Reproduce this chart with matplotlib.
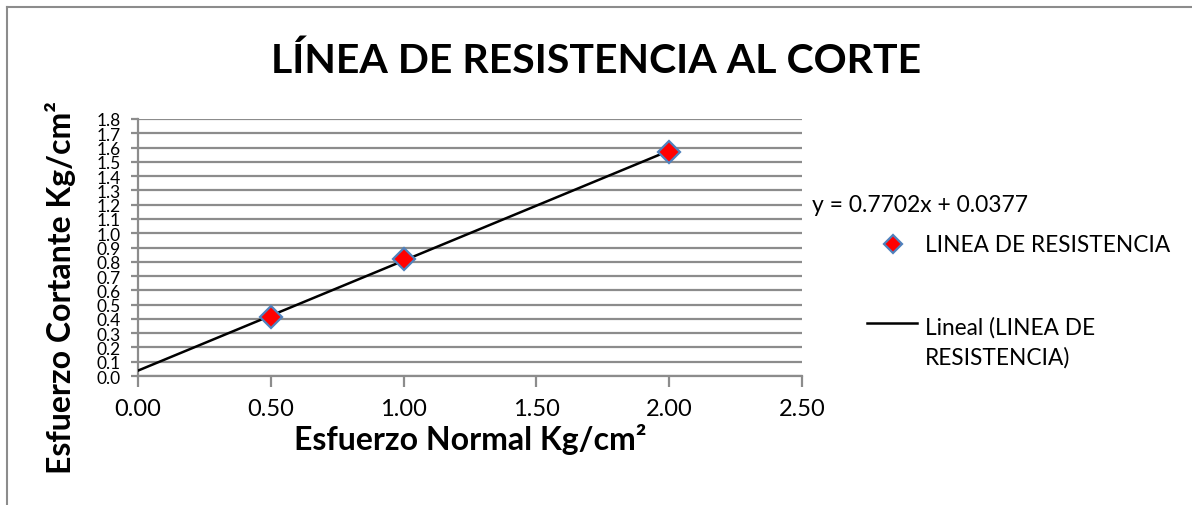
import matplotlib
matplotlib.use("Agg")
import matplotlib.pyplot as plt
import numpy as np
from matplotlib.lines import Line2D

# Data
normal_stress = [0.5, 1.0, 2.0]          # Esfuerzo Normal Kg/cm²
shear_stress = [0.41, 0.82, 1.57]        # Esfuerzo Cortante Kg/cm²
trend_slope = 0.7702
trend_intercept = 0.0377
x_ticks = [0.0, 0.5, 1.0, 1.5, 2.0, 2.5]
y_ticks = [round(0.1 * i, 1) for i in range(19)]

plt.rcParams['font.family'] = ['Lato', 'DejaVu Sans']

W, H = 1192, 506
fig = plt.figure(figsize=(W / 100, H / 100), dpi=100)
fig.patch.set_facecolor('white')

def fx(px):
    return px / W

def fy(py):
    return 1 - py / H

border_c = '#8c8c8c'
# outer chart border (top and left edges visible)
fig.add_artist(Line2D([fx(7), fx(7)], [fy(8), 0], transform=fig.transFigure,
                      color=border_c, linewidth=1.5))
fig.add_artist(Line2D([fx(7), 1], [fy(8), fy(8)], transform=fig.transFigure,
                      color=border_c, linewidth=1.5))

ax = fig.add_axes([fx(138), fy(377), fx(802 - 138), (377 - 120) / H])
ax.set_xlim(0, 2.5)
ax.set_ylim(0, 1.8)

grid_c = '#8c8c8c'
ax.set_yticks(y_ticks)
ax.yaxis.grid(True, color=grid_c, linewidth=1.6)
ax.set_axisbelow(True)
for s in ['top', 'right']:
    ax.spines[s].set_visible(False)
for s in ['left', 'bottom']:
    ax.spines[s].set_color(grid_c)
    ax.spines[s].set_linewidth(1.6)

ax.set_xticks(x_ticks)
ax.set_xticklabels([f"{v:.2f}" for v in x_ticks], fontsize=17)
ax.set_yticklabels([f"{v:.1f}" for v in y_ticks], fontsize=12.5)
ax.tick_params(axis='x', direction='out', length=8, width=1.6, color=grid_c, pad=8)
ax.tick_params(axis='y', direction='out', length=5, width=1.6, color=grid_c, pad=7.5)

# trendline over the data range
xt = np.array([0.0, max(normal_stress)])
ax.plot(xt, trend_slope * xt + trend_intercept, color='black', linewidth=1.8, zorder=3)
ax.plot(normal_stress, shear_stress, linestyle='none', marker='D', markersize=11,
        markerfacecolor='#ff0000', markeredgecolor='#4f81bd', markeredgewidth=1.6, zorder=4)

fig.text(0.5, fy(73), 'LÍNEA DE RESISTENCIA AL CORTE', ha='center', va='baseline',
         fontsize=29.5, fontweight='bold')
fig.text(fx(470), fy(440), 'Esfuerzo Normal Kg/cm²', ha='center', va='center',
         fontsize=23, fontweight='bold')
fig.text(fx(61), fy(288), 'Esfuerzo Cortante Kg/cm²', rotation=90, ha='center',
         va='center', fontsize=23, fontweight='bold')

fig.text(fx(812), fy(212), f'y = {trend_slope:.4f}x + {trend_intercept:.4f}', ha='left',
         va='baseline', fontsize=16.5)

# legend
fig.add_artist(Line2D([fx(893)], [fy(245)], transform=fig.transFigure, linestyle='none',
                      marker='D', markersize=9, markerfacecolor='#ff0000',
                      markeredgecolor='#4f81bd', markeredgewidth=1.6))
fig.text(fx(925), fy(252), 'LINEA DE RESISTENCIA', ha='left', va='baseline', fontsize=16.3)
fig.add_artist(Line2D([fx(867), fx(917)], [fy(324), fy(324)], transform=fig.transFigure,
                      color='black', linewidth=1.8))
fig.text(fx(925), fy(335), 'Lineal (LINEA DE', ha='left', va='baseline', fontsize=16.3)
fig.text(fx(925), fy(365), 'RESISTENCIA)', ha='left', va='baseline', fontsize=16.3)

fig.savefig('out.png', dpi=100, facecolor='white')
